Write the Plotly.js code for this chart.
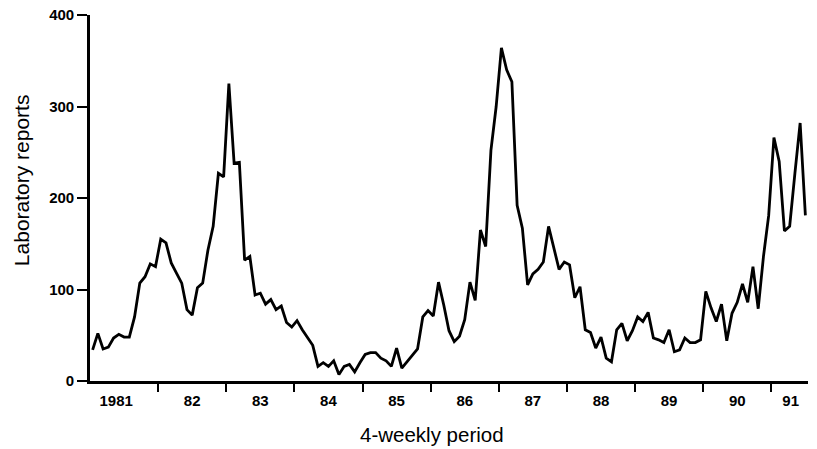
<!DOCTYPE html>
<html>
<head>
<meta charset="utf-8">
<script src="https://cdn.plot.ly/plotly-3.0.1.min.js"></script>
<style>html,body{margin:0;padding:0;background:#fff;}#chart{width:817px;height:449px;}</style>
</head>
<body>
<div id="chart"></div>
<script>
// Laboratory reports per 4-weekly period, 1981 to mid-1991
const reports = [
  34,52,35,37,47,51,48,48,70,107,
  114,128,125,155,151,129,118,107,78,72,
  102,107,143,169,227,223,325,238,239,132,
  136,94,96,84,89,78,82,64,59,66,
  56,47,39,16,20,16,22,7,16,18,
  10,20,29,31,31,25,22,16,36,14,
  21,27,35,70,77,71,108,83,55,43,
  49,67,108,88,165,147,252,300,364,340,
  327,192,167,105,117,122,130,169,145,122,
  130,127,91,103,56,53,36,48,25,21,
  56,63,44,55,70,65,75,47,45,42,
  56,32,34,47,42,42,45,98,80,65,
  84,44,74,86,106,86,125,79,136,181,
  266,240,164,169,227,282,181
];
const yearLabels = ['1981','82','83','84','85','86','87','88','89','90','91'];
const yearLabelPos = [5.5,20,33,46,59,72,85,98,111,124,134.2];   // in period units
const yearBoundaries = [13.5,26.5,39.5,52.5,65.5,78.5,91.5,104.5,117.5,130.5];
const yTicks = [0,100,200,300,400];
const xTitle = '4-weekly period';
const yTitle = 'Laboratory reports';

const periods = reports.map((v, i) => i + 1);

const bold = 'Liberation Sans, Arial, sans-serif';
const regular = 'Liberation Sans, Arial, sans-serif';

const traces = [
  {x: periods, y: reports, type: 'scatter', mode: 'lines',
   line: {color: '#000', width: 2.8}, hoverinfo: 'skip', xaxis: 'x', yaxis: 'y'},
  {x: periods, y: reports, type: 'scatter', mode: 'lines',
   line: {color: 'rgba(0,0,0,0)', width: 0}, hoverinfo: 'skip', xaxis: 'x2', yaxis: 'y', showlegend: false}
];

const range = [0.5, 137.5];
const layout = {
  width: 817, height: 449,
  margin: {l: 90, r: 9, t: 15, b: 68},
  paper_bgcolor: '#fff', plot_bgcolor: '#fff',
  showlegend: false,
  xaxis: {
    range: range, tickmode: 'array', tickvals: yearBoundaries,
    ticktext: yearBoundaries.map(() => ''),
    ticks: 'outside', ticklen: 8, tickwidth: 2, tickcolor: '#000',
    showline: true, linewidth: 2.8, linecolor: '#000',
    showgrid: false, zeroline: false, fixedrange: true
  },
  xaxis2: {
    overlaying: 'x', side: 'bottom', anchor: 'y',
    range: range, tickmode: 'array', tickvals: yearLabelPos, ticktext: yearLabels,
    ticks: 'outside', ticklen: 6, tickcolor: 'rgba(0,0,0,0)',
    tickfont: {family: bold, size: 15, color: '#000', weight: 700},
    showline: false, showgrid: false, zeroline: false
  },
  yaxis: {
    range: [0, 400], tickmode: 'array', tickvals: yTicks,
    ticks: 'outside', ticklen: 10, tickwidth: 2, tickcolor: '#000',
    tickfont: {family: bold, size: 15, color: '#000', weight: 700},
    showline: true, linewidth: 2.8, linecolor: '#000',
    showgrid: false, zeroline: false
  },
  annotations: [
    {text: xTitle, xref: 'paper', yref: 'paper', x: 0.476, y: -0.145,
     xanchor: 'center', yanchor: 'middle', showarrow: false,
     font: {family: regular, size: 20.5, color: '#000'}},
    {text: yTitle, xref: 'paper', yref: 'paper', x: -0.096, y: 0.549,
     xanchor: 'center', yanchor: 'middle', showarrow: false, textangle: -90,
     font: {family: regular, size: 21, color: '#000'}}
  ]
};

Plotly.newPlot('chart', traces, layout, {displayModeBar: false, staticPlot: true});
</script>
</body>
</html>
